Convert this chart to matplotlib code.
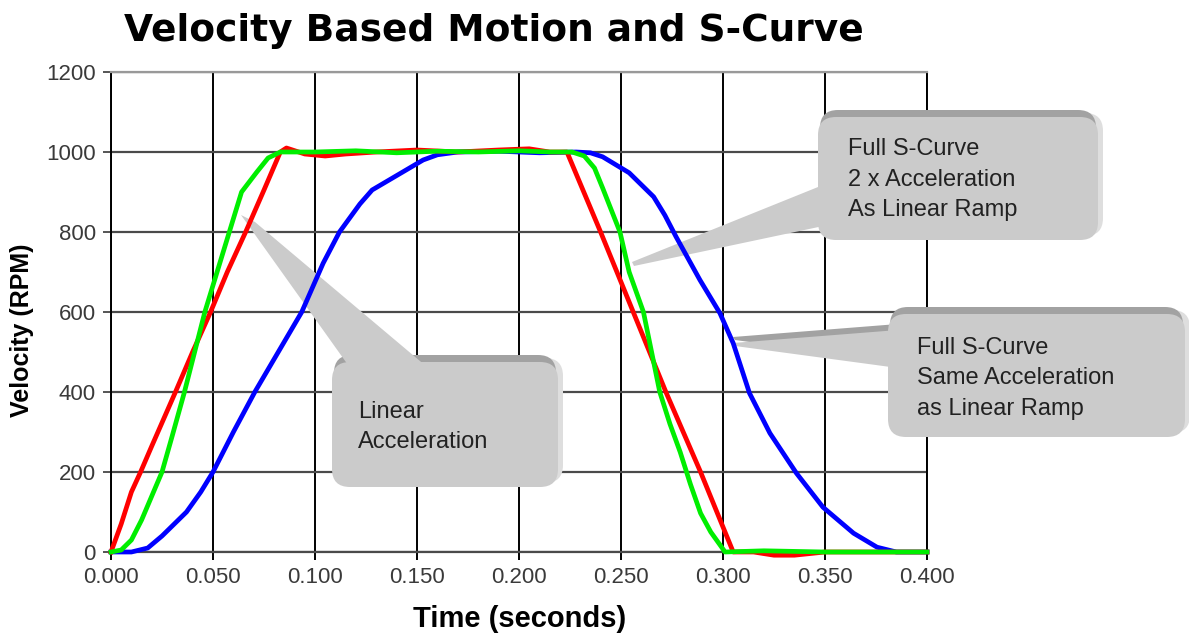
import numpy as np
import matplotlib
matplotlib.use("Agg")
import matplotlib.pyplot as plt
from matplotlib.patches import FancyBboxPatch, Polygon
from matplotlib.transforms import Affine2D

plt.rcParams["font.family"] = ["Liberation Sans", "DejaVu Sans"]

# --- data ----------------------------------------------------------------
t_linear = [0, 0.005, 0.010, 0.0145, 0.020, 0.0316, 0.040, 0.0488, 0.057, 0.066,
            0.075, 0.083, 0.086, 0.095, 0.105, 0.115, 0.13, 0.15, 0.17, 0.19,
            0.205, 0.215, 0.2235, 0.240, 0.256, 0.272, 0.289, 0.305, 0.315,
            0.325, 0.335, 0.35, 0.4]
v_linear = [0, 70, 150, 200, 265, 400, 500, 600, 700, 800,
            905, 1000, 1010, 995, 990, 995, 1000, 1005, 1000, 1005,
            1008, 1000, 1000, 800, 600, 400, 200, 0, 0,
            -8, -8, 0, 0]

t_s2x = [0, 0.005, 0.010, 0.015, 0.020, 0.025, 0.030, 0.036, 0.041, 0.046,
         0.052, 0.058, 0.064, 0.0715, 0.077, 0.083, 0.10, 0.12, 0.14, 0.16,
         0.18, 0.20, 0.215, 0.226, 0.232, 0.237, 0.241, 0.2495, 0.254, 0.261,
         0.265, 0.269, 0.274, 0.279, 0.284, 0.289, 0.294, 0.2985, 0.301,
         0.32, 0.35, 0.4]
v_s2x = [0, 5, 30, 80, 140, 200, 290, 400, 500, 600,
         700, 800, 900, 950, 985, 1000, 1000, 1003, 998, 1002,
         1000, 1003, 1000, 1000, 990, 960, 910, 800, 700, 600,
         500, 400, 320, 250, 170, 97, 50, 18, 0,
         3, 0, 0]

t_s1x = [0, 0.010, 0.018, 0.025, 0.030, 0.037, 0.044, 0.050, 0.060, 0.0705,
         0.082, 0.0935, 0.104, 0.112, 0.122, 0.128, 0.142, 0.153, 0.160, 0.170,
         0.19, 0.21, 0.228, 0.235, 0.241, 0.254, 0.266, 0.2715, 0.277, 0.2887,
         0.2985, 0.305, 0.313, 0.323, 0.336, 0.349, 0.364, 0.3755, 0.385, 0.40]
v_s1x = [0, 0, 10, 40, 65, 100, 150, 200, 300, 400,
         500, 600, 722, 800, 870, 905, 947, 980, 993, 1000,
         1002, 998, 1000, 998, 988, 948, 888, 842, 788, 680,
         597, 522, 397, 297, 197, 112, 47, 12, 0, 0]

x_ticks = [0.0, 0.05, 0.1, 0.15, 0.2, 0.25, 0.3, 0.35, 0.4]
x_ticklabels = ["0.000", "0.050", "0.100", "0.150", "0.200", "0.250",
                "0.300", "0.350", "0.400"]
y_ticks = [0, 200, 400, 600, 800, 1000, 1200]

callouts = [
    ["Full S-Curve", "2 x Acceleration", "As Linear Ramp"],
    ["Full S-Curve", "Same Acceleration", "as Linear Ramp"],
    ["Linear", "Acceleration"],
]

# --- figure --------------------------------------------------------------
W, H = 1189, 637
fig = plt.figure(figsize=(W / 100, H / 100), dpi=100)
ax = fig.add_axes([111 / W, 1 - 552 / H, (927 - 111) / W, (552 - 72) / H])

# pixel coordinates, origin top-left
pix = Affine2D().scale(1, -1).translate(0, H)

ax.set_xlim(0, 0.4)
ax.set_ylim(0, 1200)
ax.set_xticks(x_ticks)
ax.set_xticklabels(x_ticklabels)
ax.set_yticks(y_ticks)
ax.set_axisbelow(True)
ax.xaxis.grid(True, color="black", lw=1.4, zorder=0.5)
ax.yaxis.grid(True, color="#4a4a4a", lw=1.6, zorder=0.5)
ax.tick_params(axis="x", direction="out", length=6, width=1.4, color="black",
               labelsize=16, labelcolor="#3a3a3a", pad=5)
ax.tick_params(axis="y", direction="out", length=6, width=1.4, color="#555555",
               labelsize=16, labelcolor="#3a3a3a", pad=5)
for s in ["left", "right"]:
    ax.spines[s].set_color("black")
    ax.spines[s].set_linewidth(1.4)
ax.spines["top"].set_color("#999999")
ax.spines["bottom"].set_color("#4a4a4a")
ax.spines["top"].set_linewidth(1.6)
ax.spines["bottom"].set_linewidth(1.6)
for s in ax.spines.values():
    s.set_zorder(0.6)

ax.plot(t_s1x, v_s1x, color="#0000ff", lw=3.4, zorder=2, clip_on=False)
ax.plot(t_linear, v_linear, color="#ff0000", lw=3.4, zorder=2.1, clip_on=False)
ax.plot(t_s2x, v_s2x, color="#00ee00", lw=3.4, zorder=2.2, clip_on=False)

box_c = "#cbcbcb"
dark_c = "#a2a2a2"
light_c = "#dedede"


def callout(x0, y0, w, h, wedge, lines, tx, ty, wedge_shadow=False):
    style = "round,pad=0,rounding_size=18"
    # light shadow on the right, dark rim on top
    ax.add_patch(FancyBboxPatch((x0 + 5, y0 - 4), w, h, boxstyle=style,
                                fc=light_c, ec="none", transform=pix,
                                clip_on=False, zorder=0.85))
    ax.add_patch(FancyBboxPatch((x0 + 2, y0 - 7), w - 4, h, boxstyle=style,
                                fc=dark_c, ec="none", transform=pix,
                                clip_on=False, zorder=0.9))
    if wedge_shadow:
        ax.add_patch(Polygon([(x, y - 6) for x, y in wedge], closed=True,
                             fc=dark_c, ec="none", transform=pix,
                             clip_on=False, zorder=0.9))
    ax.add_patch(Polygon(wedge, closed=True, fc=box_c, ec="none",
                         transform=pix, clip_on=False, zorder=1))
    ax.add_patch(FancyBboxPatch((x0, y0), w, h, boxstyle=style,
                                fc=box_c, ec="none", transform=pix,
                                clip_on=False, zorder=1))
    for i, line in enumerate(lines):
        ax.text(tx, ty + i * 30.5, line, transform=pix, fontsize=17,
                color="#222222", va="baseline", ha="left", zorder=3)


callout(818, 117, 280, 123,
        [(632, 262), (634, 266), (818 + 10, 225), (818 + 10, 183)],
        callouts[0], 848, 155)
callout(888, 314, 297, 123,
        [(733, 343), (735, 346), (888 + 10, 368), (888 + 10, 330)],
        callouts[1], 917, 354, wedge_shadow=True)
callout(332, 362, 226, 125,
        [(241, 215), (255, 222), (433, 372), (353, 372)],
        callouts[2], 358, 418)

fig.text(494 / W, 1 - 31 / H, "Velocity Based Motion and S-Curve",
         fontsize=27, fontweight="bold", family="DejaVu Sans",
         ha="center", va="center")
fig.text(520 / W, 1 - 619 / H, "Time (seconds)", fontsize=21,
         fontweight="bold", ha="center", va="center")
fig.text(22 / W, 1 - 330 / H, "Velocity (RPM)", fontsize=18,
         fontweight="bold", ha="center", va="center", rotation=90)

fig.savefig("out.png", dpi=100)
